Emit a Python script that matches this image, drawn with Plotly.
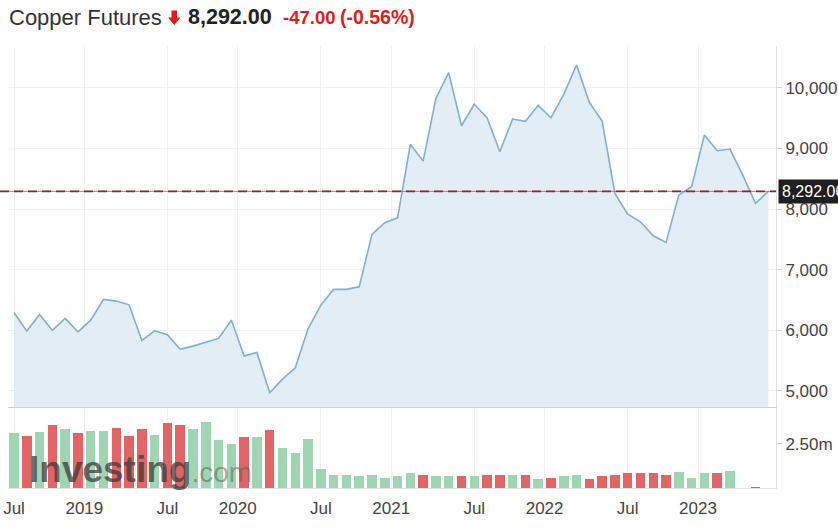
import plotly.graph_objects as go

# ---------------- data ----------------
start_year, start_month = 2018, 7
prices = [6295, 5987, 6262, 5998, 6196, 5975, 6168, 6510, 6482, 6421,
          5833, 5992, 5926, 5685, 5739, 5800, 5866, 6168, 5574, 5635,
          4969, 5195, 5381, 6025, 6416, 6675, 6675, 6718, 7582, 7774,
          7856, 9068, 8792, 9827, 10249, 9375, 9728, 9507, 8946, 9485,
          9447, 9711, 9507, 9893, 10376, 9761, 9452, 8259, 7917, 7790,
          7559, 7450, 8231, 8368, 9221, 8962, 8990, 8561, 8094, 8292]
volumes_m = [3.10, 2.93, 3.15, 3.57, 3.30, 3.10, 3.23, 3.23, 3.40, 2.93,
             3.32, 3.00, 3.64, 3.57, 3.32, 3.70, 2.68, 2.46, 2.85, 2.85,
             3.25, 2.23, 1.99, 2.76, 1.05, 0.75, 0.75, 0.68, 0.75, 0.58,
             0.68, 0.83, 0.75, 0.66, 0.66, 0.66, 0.66, 0.75, 0.75, 0.75,
             0.75, 0.51, 0.58, 0.66, 0.75, 0.51, 0.66, 0.75, 0.83, 0.83,
             0.83, 0.75, 0.90, 0.58, 0.83, 0.83, 0.98, 0.00, 0.04, 0.00]
last_price = 8292.00
change = -47.00
change_pct = -0.56
price_ticks = [5000, 6000, 7000, 8000, 9000, 10000]
vol_ticks = [2.5]
vol_tick_text = ["2.50m"]

# ---------------- derived ----------------
n = len(prices)
idx = list(range(n))
months = [((start_month - 1 + i) % 12) + 1 for i in idx]
years = [start_year + (start_month - 1 + i) // 12 for i in idx]
tickvals, ticktext = [], []
for i in idx:
    if months[i] == 7:
        tickvals.append(i); ticktext.append("Jul")
    elif months[i] == 1:
        tickvals.append(i - 0.5); ticktext.append(str(years[i]))

GREEN = "#9fd5b2"
RED = "#e26464"
bar_colors = [GREEN] + [GREEN if prices[i] >= prices[i - 1] else RED for i in range(1, n)]

FONT = "Arial, Liberation Sans, sans-serif"
FIG_W, FIG_H = 838, 532

# plot area in pixels: x 8..776, y 46..488
L, R, T, B = 8, 776, 46, 488
W, H = R - L, B - T
def px(sx):
    return (sx - L) / W
def py(sy):
    return (B - sy) / H

fig = go.Figure()
fig.add_trace(go.Scatter(
    x=idx, y=prices, mode="lines", xaxis="x", yaxis="y",
    line=dict(color="#7fb0d6", width=1.6),
    fill="tozeroy", fillcolor="rgba(224,235,245,0.9)",
    hoverinfo="skip", showlegend=False))
fig.add_trace(go.Bar(
    x=idx, y=volumes_m, xaxis="x2", yaxis="y2",
    marker=dict(color=bar_colors, line=dict(width=0)),
    width=0.74, hoverinfo="skip", showlegend=False))

xr = [-0.47, 59.6]
common_x = dict(range=xr, tickmode="array", tickvals=tickvals,
                showgrid=True, gridcolor="#f1f1f1", gridwidth=1,
                zeroline=False, fixedrange=True, automargin=False,
                ticklabeloverflow="allow")
fig.update_layout(
    width=FIG_W, height=FIG_H,
    margin=dict(l=L, r=FIG_W - R, t=T, b=FIG_H - B, autoexpand=False),
    paper_bgcolor="white", plot_bgcolor="white",
    bargap=0,
    xaxis=dict(**common_x, domain=[0, 1], anchor="y", showticklabels=False,
               showline=True, linecolor="#cfcfcf", linewidth=1, ticks=""),
    xaxis2=dict(**common_x, domain=[0, 1], anchor="y2", ticktext=ticktext,
                showticklabels=True, ticks="outside", ticklen=5,
                tickcolor="rgba(0,0,0,0)",
                tickfont=dict(family=FONT, size=17, color="#444"),
                showline=True, linecolor="#e2e2e2", linewidth=1),
    yaxis=dict(domain=[0.183, 1], anchor="x", side="right",
               range=[4733, 10690], tickmode="array", tickvals=price_ticks,
               ticktext=[f"{v:,}" for v in price_ticks],
               tickfont=dict(family=FONT, size=17, color="#444"),
               ticks="outside", ticklen=5, tickcolor="#d5d5d5",
               showgrid=True, gridcolor="#f1f1f1", zeroline=False,
               showline=True, linecolor="#e2e2e2", fixedrange=True,
               automargin=False),
    yaxis2=dict(domain=[0, 0.181], anchor="x2", side="right",
                range=[0, 4.5], tickmode="array", tickvals=vol_ticks,
                ticktext=vol_tick_text,
                tickfont=dict(family=FONT, size=17, color="#444"),
                ticks="outside", ticklen=5, tickcolor="#d5d5d5",
                showgrid=False, zeroline=False,
                showline=True, linecolor="#e2e2e2", fixedrange=True,
                automargin=False),
)

# last-price reference line
fig.add_shape(type="line", xref="paper", yref="y", x0=px(0), x1=1,
              y0=last_price, y1=last_price,
              line=dict(color="rgba(230,60,60,0.75)", width=1))
fig.add_shape(type="line", xref="paper", yref="y", x0=px(0), x1=1,
              y0=last_price, y1=last_price,
              line=dict(color="#7a2f2f", width=1.6, dash="9px,5px"))

# last-price label box
fig.add_annotation(xref="paper", yref="y", x=1, y=last_price, xshift=2,
                   xanchor="left", yanchor="middle", showarrow=False,
                   text=f"{last_price:,.2f}", bgcolor="#1f1f1f",
                   borderpad=3,
                   font=dict(family=FONT, size=16, color="white"))

# header
fig.add_annotation(xref="paper", yref="paper", x=px(7), y=py(17),
                   xanchor="left", yanchor="middle", showarrow=False,
                   text="Copper Futures",
                   font=dict(family=FONT, size=22, color="#333"))
# red down arrow icon
ax0, ax1, axm = px(168), px(180.5), px(174.25)
sx0, sx1 = px(171.5), px(177)
y_top, y_mid, y_bot = py(10.5), py(17.5), py(25)
fig.add_shape(type="path", xref="paper", yref="paper",
              path=(f"M {sx0} {y_top} L {sx1} {y_top} L {sx1} {y_mid} "
                    f"L {ax1} {y_mid} L {axm} {y_bot} L {ax0} {y_mid} "
                    f"L {sx0} {y_mid} Z"),
              fillcolor="#e51a1a", line=dict(width=0))
fig.add_annotation(xref="paper", yref="paper", x=px(186), y=py(17),
                   xanchor="left", yanchor="middle", showarrow=False,
                   text=f"<b>{last_price:,.2f}</b>",
                   font=dict(family=FONT, size=21.5, color="#222"))
fig.add_annotation(xref="paper", yref="paper", x=px(281), y=py(17),
                   xanchor="left", yanchor="middle", showarrow=False,
                   text=f"<b>{change:.2f}</b>",
                   font=dict(family=FONT, size=18.5, color="#e51a1a"))
fig.add_annotation(xref="paper", yref="paper", x=px(338), y=py(17),
                   xanchor="left", yanchor="middle", showarrow=False,
                   text=f"<b>({change_pct:.2f}%)</b>",
                   font=dict(family=FONT, size=19.5, color="#e51a1a"))

# watermark
fig.add_annotation(xref="paper", yref="paper", x=px(27), y=py(469),
                   xanchor="left", yanchor="middle", showarrow=False,
                   text="<b>Investing</b><span style='font-size:28px;color:rgba(90,90,90,0.7)'>.com</span>",
                   font=dict(family=FONT, size=37, color="rgba(60,60,60,0.75)"))

fig.write_html("out.html",
               config={"displayModeBar": False},
               post_script="document.body.style.margin='0';document.body.style.overflow='hidden';")
